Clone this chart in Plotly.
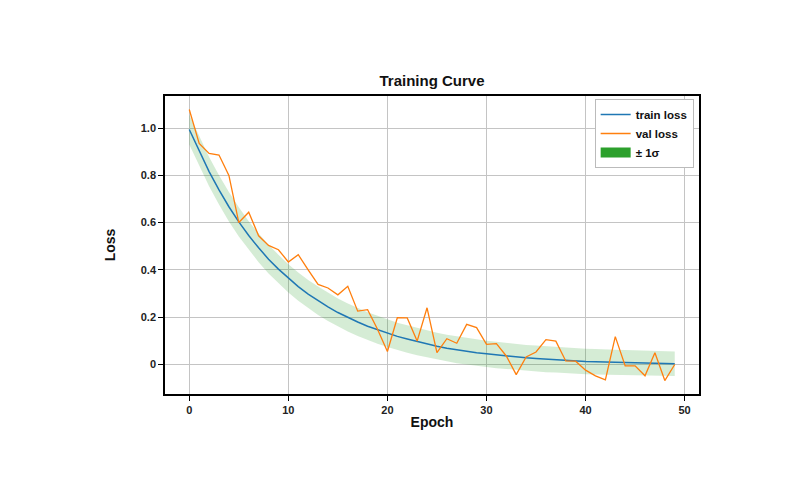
import plotly.graph_objects as go

epochs = list(range(50))
train_loss = [0.994, 0.902, 0.816, 0.738, 0.667, 0.603, 0.545, 0.493, 0.445, 0.403,
              0.364, 0.329, 0.297, 0.269, 0.243, 0.219, 0.198, 0.179, 0.161, 0.146,
              0.131, 0.118, 0.107, 0.096, 0.087, 0.076, 0.068, 0.061, 0.055, 0.049,
              0.044, 0.039, 0.035, 0.031, 0.027, 0.024, 0.021, 0.019, 0.016, 0.014,
              0.012, 0.011, 0.009, 0.008, 0.007, 0.006, 0.005, 0.004, 0.003, 0.002]
val_loss = [1.079, 0.935, 0.893, 0.886, 0.800, 0.600, 0.644, 0.544, 0.503, 0.485,
            0.433, 0.464, 0.400, 0.338, 0.323, 0.294, 0.330, 0.225, 0.231, 0.148,
            0.054, 0.197, 0.196, 0.098, 0.239, 0.049, 0.108, 0.089, 0.169, 0.155,
            0.084, 0.087, 0.035, -0.044, 0.031, 0.052, 0.104, 0.098, 0.014, 0.013,
            -0.025, -0.049, -0.066, 0.117, -0.007, -0.007, -0.049, 0.049, -0.069, -0.001]
train_std = [0.063, 0.063, 0.062, 0.062, 0.062, 0.062, 0.061, 0.061, 0.061, 0.061,
             0.060, 0.060, 0.060, 0.060, 0.060, 0.059, 0.059, 0.059, 0.059, 0.059,
             0.058, 0.058, 0.058, 0.058, 0.057, 0.057, 0.057, 0.057, 0.056, 0.056,
             0.056, 0.056, 0.055, 0.055, 0.055, 0.055, 0.055, 0.054, 0.054, 0.054,
             0.054, 0.054, 0.053, 0.053, 0.053, 0.053, 0.053, 0.053, 0.052, 0.052]
x_ticks = [0, 10, 20, 30, 40, 50]
y_ticks = [0, 0.2, 0.4, 0.6, 0.8, 1.0]
y_tick_text = ["0", "0.2", "0.4", "0.6", "0.8", "1.0"]

upper = [m + s for m, s in zip(train_loss, train_std)]
lower = [m - s for m, s in zip(train_loss, train_std)]

FONT = "Liberation Sans, Arial, sans-serif"

fig = go.Figure()
fig.add_trace(go.Scatter(x=epochs, y=lower, mode="lines", line=dict(width=0),
                         showlegend=False, hoverinfo="skip"))
fig.add_trace(go.Scatter(x=epochs, y=upper, mode="lines", line=dict(width=0),
                         fill="tonexty", fillcolor="rgba(44,160,44,0.2)",
                         showlegend=False, hoverinfo="skip"))
fig.add_trace(go.Scatter(x=epochs, y=train_loss, mode="lines", name="train loss",
                         line=dict(color="#1f77b4", width=1.5)))
fig.add_trace(go.Scatter(x=epochs, y=val_loss, mode="lines", name="val loss",
                         line=dict(color="#ff7f0e", width=1.3)))
fig.add_trace(go.Scatter(x=[None], y=[None], mode="lines", name="± 1σ",
                         line=dict(color="#2ca02c", width=10)))

axis_common = dict(showline=True, linecolor="black", linewidth=1.5, mirror=True,
                   ticks="outside", ticklen=5, tickwidth=1.2, tickcolor="black",
                   showgrid=True, gridcolor="#c4c4c4", gridwidth=1, zeroline=False,
                   tickfont=dict(family=FONT, size=11, color="#222", weight="bold"))

fig.update_layout(
    width=800, height=500,
    margin=dict(l=165, r=101, t=96, b=106),
    paper_bgcolor="white", plot_bgcolor="white",
    title=dict(text="Training Curve", x=(165 + 699) / 2 / 800, xanchor="center",
               y=1 - 81 / 500, yanchor="middle",
               font=dict(family=FONT, size=15, color="#111", weight="bold")),
    xaxis=dict(range=[-2.45, 51.45], tickvals=x_ticks,
               title=dict(text="Epoch", standoff=2,
                          font=dict(family=FONT, size=14, color="#111", weight="bold")),
               **axis_common),
    yaxis=dict(range=[-0.126, 1.136], tickvals=y_ticks, ticktext=y_tick_text,
               title=dict(text="Loss", standoff=22,
                          font=dict(family=FONT, size=14, color="#111", weight="bold")),
               **axis_common),
    legend=dict(x=0.99, y=0.99, xanchor="right", yanchor="top",
                traceorder="normal",
                bgcolor="white", bordercolor="#bbbbbb", borderwidth=1,
                font=dict(family=FONT, size=11.5, color="#111", weight="bold"),
                tracegroupgap=0, itemwidth=30),
    showlegend=True,
)

fig.write_html("out.html")
